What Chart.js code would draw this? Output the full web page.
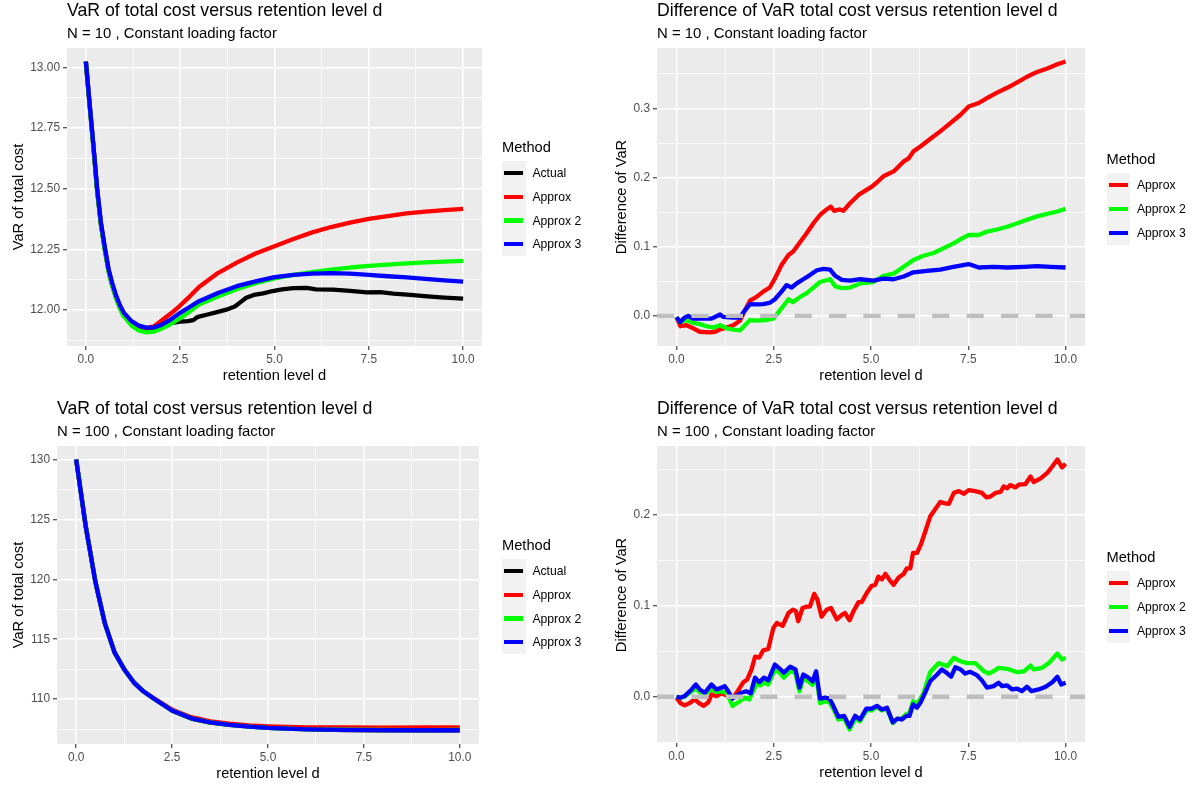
<!DOCTYPE html>
<html>
<head>
<meta charset="utf-8">
<script src="https://cdn.jsdelivr.net/npm/chart.js@4/dist/chart.umd.min.js"></script>
<style>
  html, body { margin: 0; padding: 0; background: #ffffff; }
  body { position: relative; width: 1198px; height: 788px; overflow: hidden;
         font-family: "Liberation Sans", Arial, Helvetica, sans-serif; color: #000; }
  canvas { position: absolute; }
  .txt { position: absolute; white-space: nowrap; line-height: 1; transform: translateY(-50%); }
  .title { font-size: 17.7px; }
  .sub { font-size: 14.9px; }
  .axt { font-size: 14.67px; transform: translate(-50%, -50%); }
  .axt.rot { transform: translate(-50%, -50%) rotate(-90deg); }
  .lgTitle { font-size: 14.67px; }
  .lgKey { position: absolute; background: #F2F2F2; }
  .lgLine { position: absolute; }
  .lgLabel { font-size: 12.2px; }
</style>
</head>
<body>
<canvas id="cTL" style="left:0px;top:0px"></canvas>
<canvas id="cTR" style="left:600px;top:0px"></canvas>
<canvas id="cBL" style="left:0px;top:394px"></canvas>
<canvas id="cBR" style="left:600px;top:394px"></canvas>
<script>
// ---------- labels ----------
const methodNames  = ['Actual', 'Approx', 'Approx 2', 'Approx 3'];
const methodColors = ['#000000', '#FF0000', '#00FF00', '#0000FF'];
const titleLevel = 'VaR of total cost versus retention level d';
const titleDiff  = 'Difference of VaR total cost versus retention level d';
const subtitle10  = 'N = 10 , Constant loading factor';
const subtitle100 = 'N = 100 , Constant loading factor';
const xTitle = 'retention level d';
const yTitleLevel = 'VaR of total cost';
const yTitleDiff  = 'Difference of VaR';

// ---------- tick breaks ----------
const xBreaks   = [0, 2.5, 5, 7.5, 10];
const yBreaksTL = [12, 12.25, 12.5, 12.75, 13];
const yBreaksTR = [0, 0.1, 0.2, 0.3];
const yBreaksBL = [110, 115, 120, 125, 130];
const yBreaksBR = [0, 0.1, 0.2];

// ---------- N = 10 : VaR of total cost ----------
const tlD = [0,0.1,0.2,0.3,0.4,0.5,0.6,0.7,0.8,0.9,1.0,1.2,1.4,1.6,1.8,2.0,2.25,2.5,2.75,3.0,3.5,4.0,4.5,5.0,5.5,6.0,6.5,7.0,7.5,8.0,8.5,9.0,9.5,10.0];
const tlApprox  = [13.025,12.848,12.676,12.495,12.355,12.255,12.166,12.105,12.055,12.015,11.985,11.952,11.932,11.925,11.932,11.955,11.985,12.018,12.055,12.095,12.152,12.195,12.233,12.263,12.293,12.32,12.342,12.36,12.376,12.387,12.398,12.406,12.412,12.417];
const tlApprox2 = [13.025,12.845,12.672,12.49,12.35,12.25,12.16,12.098,12.048,12.006,11.975,11.937,11.915,11.907,11.91,11.922,11.942,11.966,11.993,12.022,12.055,12.085,12.11,12.13,12.145,12.156,12.166,12.175,12.182,12.187,12.192,12.196,12.199,12.202];
const tlApprox3 = [13.025,12.85,12.68,12.50,12.36,12.26,12.17,12.11,12.06,12.02,11.99,11.955,11.935,11.927,11.928,11.938,11.96,11.988,12.012,12.036,12.07,12.098,12.118,12.135,12.145,12.15,12.152,12.15,12.145,12.139,12.134,12.128,12.122,12.117];
const tlActualD = [0,0.1,0.2,0.3,0.4,0.5,0.6,0.7,0.8,0.9,1.0,1.2,1.4,1.6,1.8,2.0,2.25,2.5,2.7,2.85,2.95,3.2,3.45,3.7,3.95,4.1,4.25,4.45,4.7,4.95,5.2,5.5,5.85,6.1,6.55,7.0,7.45,7.8,8.15,8.6,9.05,9.5,10.0];
const tlActual  = [13.025,12.846,12.674,12.492,12.352,12.252,12.162,12.1,12.05,12.01,11.978,11.94,11.92,11.912,11.918,11.93,11.945,11.952,11.954,11.958,11.97,11.98,11.99,12.0,12.014,12.032,12.05,12.062,12.068,12.078,12.085,12.09,12.091,12.085,12.084,12.079,12.072,12.073,12.067,12.062,12.056,12.051,12.047];

// ---------- N = 10 : difference of VaR ----------
const trApproxD  = [0,0.1,0.26,0.43,0.6,0.86,0.99,1.1,1.29,1.46,1.63,1.76,1.89,2.06,2.23,2.4,2.53,2.7,2.88,3.0,3.18,3.35,3.52,3.69,3.86,3.97,4.05,4.2,4.29,4.46,4.68,5.02,5.15,5.32,5.58,5.71,5.84,5.97,6.09,6.27,6.52,6.78,7.04,7.3,7.51,7.77,7.98,8.24,8.5,8.76,9.01,9.27,9.53,9.79,10.0];
const trApprox   = [-0.002,-0.015,-0.0135,-0.018,-0.023,-0.024,-0.023,-0.02,-0.017,-0.0135,-0.007,0.008,0.022,0.0275,0.035,0.041,0.054,0.0735,0.088,0.093,0.107,0.12,0.134,0.146,0.154,0.158,0.152,0.154,0.152,0.163,0.175,0.187,0.193,0.202,0.209,0.216,0.2235,0.228,0.238,0.245,0.256,0.267,0.279,0.291,0.303,0.308,0.315,0.323,0.33,0.338,0.346,0.353,0.358,0.364,0.368];
const trApprox2D = [0,0.09,0.26,0.43,0.6,0.77,0.94,1.12,1.29,1.46,1.63,1.76,1.89,2.06,2.32,2.49,2.66,2.88,3.0,3.18,3.35,3.52,3.69,3.95,4.08,4.25,4.46,4.72,5.06,5.32,5.58,5.84,6.09,6.35,6.61,6.87,7.12,7.34,7.51,7.77,7.98,8.24,8.5,8.76,9.01,9.27,9.53,9.79,10.0];
const trApprox2  = [-0.002,-0.009,-0.006,-0.010,-0.012,-0.015,-0.017,-0.0135,-0.018,-0.02,-0.021,-0.0135,-0.006,-0.007,-0.006,-0.004,0.008,0.024,0.02,0.0275,0.033,0.041,0.049,0.053,0.043,0.04,0.041,0.047,0.049,0.058,0.061,0.071,0.081,0.087,0.091,0.098,0.105,0.112,0.117,0.117,0.122,0.125,0.129,0.134,0.139,0.144,0.1475,0.151,0.155];
const trApprox3D = [0,0.1,0.21,0.3,0.43,0.69,0.9,1.03,1.12,1.2,1.46,1.63,1.76,1.89,2.06,2.23,2.4,2.53,2.7,2.83,2.96,3.09,3.26,3.43,3.61,3.78,3.95,4.08,4.25,4.46,4.72,5.06,5.32,5.58,5.84,6.09,6.44,6.78,7.12,7.51,7.77,8.15,8.5,8.93,9.27,9.61,10.0];
const trApprox3  = [-0.002,-0.009,-0.0025,0,-0.004,-0.004,-0.004,-0.0005,0.002,-0.0015,-0.0025,-0.0025,0.008,0.017,0.0165,0.017,0.019,0.024,0.035,0.0445,0.041,0.047,0.053,0.059,0.066,0.068,0.067,0.058,0.052,0.051,0.053,0.051,0.054,0.053,0.057,0.063,0.065,0.067,0.071,0.075,0.070,0.071,0.070,0.071,0.072,0.071,0.070];

// ---------- N = 100 : VaR of total cost ----------
const blD = [0,0.25,0.5,0.75,1.0,1.25,1.5,1.75,2.0,2.5,3.0,3.5,4.0,4.5,5.0,6.0,7.0,8.0,9.0,10.0];
const blActual  = [130.0,124.4,119.8,116.3,113.9,112.5,111.4,110.65,110.1,109.03,108.38,108.03,107.86,107.72,107.61,107.49,107.41,107.40,107.39,107.385];
const blApprox  = [130.0,124.4,119.8,116.3,113.9,112.5,111.4,110.66,110.14,109.12,108.49,108.14,107.95,107.81,107.73,107.64,107.63,107.62,107.63,107.64];
const blApprox2 = [130.0,124.4,119.8,116.3,113.9,112.5,111.4,110.65,110.1,109.05,108.4,108.05,107.85,107.7,107.6,107.48,107.45,107.43,107.42,107.43];
const blApprox3 = [130.0,124.4,119.8,116.3,113.9,112.5,111.4,110.65,110.1,109.05,108.4,108.05,107.85,107.7,107.6,107.48,107.43,107.41,107.40,107.40];

// ---------- N = 100 : difference of VaR ----------
const brApproxD  = [0,0.1,0.21,0.34,0.47,0.58,0.7,0.82,0.9,1.03,1.16,1.29,1.46,1.59,1.72,1.82,1.93,2.02,2.13,2.23,2.36,2.49,2.58,2.73,2.88,2.99,3.07,3.13,3.24,3.35,3.43,3.54,3.62,3.73,3.86,3.97,4.12,4.25,4.33,4.45,4.55,4.68,4.76,4.89,5.02,5.11,5.19,5.28,5.37,5.5,5.58,5.71,5.84,5.92,6.01,6.08,6.18,6.28,6.39,6.52,6.65,6.78,6.91,7.0,7.13,7.26,7.39,7.51,7.68,7.85,7.97,8.07,8.2,8.33,8.41,8.5,8.58,8.71,8.8,8.97,9.1,9.18,9.36,9.53,9.66,9.79,9.91,10.0];
const brApprox   = [-0.001,-0.007,-0.0095,-0.007,-0.003,-0.007,-0.010,-0.006,0.0025,0.0007,0.0036,0.0015,-0.001,0.0073,0.016,0.019,0.03,0.044,0.043,0.051,0.0525,0.0755,0.081,0.078,0.092,0.0957,0.094,0.083,0.0975,0.099,0.099,0.113,0.107,0.088,0.0957,0.0975,0.085,0.09,0.092,0.084,0.094,0.104,0.104,0.114,0.122,0.123,0.132,0.129,0.135,0.127,0.123,0.131,0.135,0.141,0.141,0.158,0.158,0.167,0.181,0.198,0.206,0.214,0.2125,0.212,0.224,0.226,0.223,0.227,0.226,0.224,0.219,0.22,0.224,0.225,0.231,0.229,0.2326,0.23,0.233,0.2337,0.242,0.236,0.24,0.246,0.253,0.2607,0.252,0.256];
const brApprox2D = [0,0.1,0.21,0.39,0.5,0.6,0.73,0.9,1.03,1.16,1.29,1.37,1.44,1.59,1.76,1.87,1.97,2.06,2.15,2.25,2.36,2.53,2.66,2.76,2.92,3.06,3.16,3.26,3.39,3.5,3.59,3.69,3.82,3.93,4.03,4.16,4.31,4.45,4.59,4.72,4.88,5.02,5.15,5.28,5.41,5.56,5.68,5.79,5.91,5.99,6.08,6.18,6.27,6.35,6.52,6.74,6.96,7.13,7.3,7.47,7.68,7.9,8.03,8.15,8.28,8.5,8.76,8.93,9.1,9.18,9.4,9.57,9.79,9.91,10.0];
const brApprox2  = [0,-0.001,0.0,0.006,0.009,0.005,0.002,0.009,0.005,0.006,0.004,-0.003,-0.0102,-0.006,-0.001,-0.003,0.006,0.0146,0.0124,0.0153,0.0135,0.03,0.026,0.021,0.028,0.026,0.006,0.02,0.017,0.013,0.024,-0.007,-0.005,-0.006,-0.013,-0.025,-0.024,-0.036,-0.024,-0.027,-0.015,-0.015,-0.011,-0.015,-0.013,-0.029,-0.024,-0.024,-0.019,-0.018,-0.005,-0.008,-0.002,0.004,0.027,0.037,0.0336,0.0427,0.039,0.037,0.037,0.028,0.0255,0.028,0.0318,0.0307,0.027,0.028,0.0343,0.03,0.0318,0.037,0.0475,0.041,0.0427];
const brApprox3D = [0,0.1,0.21,0.39,0.5,0.6,0.73,0.9,1.03,1.16,1.24,1.33,1.44,1.56,1.67,1.79,1.91,2.02,2.13,2.25,2.36,2.53,2.66,2.76,2.92,3.06,3.16,3.26,3.39,3.5,3.59,3.69,3.82,3.93,4.03,4.16,4.31,4.45,4.59,4.72,4.88,5.02,5.15,5.28,5.41,5.56,5.68,5.79,5.91,5.99,6.08,6.18,6.27,6.39,6.52,6.7,6.82,6.95,7.06,7.17,7.3,7.42,7.55,7.73,7.85,7.98,8.15,8.28,8.37,8.5,8.63,8.76,8.88,9.01,9.12,9.31,9.49,9.66,9.79,9.89,10.0];
const brApprox3  = [0,-0.001,0.0007,0.008,0.0135,0.008,0.0044,0.0135,0.008,0.01,0.0117,0.006,-0.002,0.0015,0.0044,0.006,0.0037,0.021,0.016,0.021,0.018,0.0354,0.0307,0.0263,0.033,0.03,0.01,0.0245,0.021,0.017,0.028,-0.002,-0.001,-0.002,-0.010,-0.022,-0.021,-0.033,-0.021,-0.025,-0.013,-0.013,-0.010,-0.014,-0.012,-0.028,-0.024,-0.025,-0.021,-0.021,-0.0084,-0.012,-0.0066,0.0044,0.017,0.0245,0.03,0.026,0.022,0.0325,0.03,0.0255,0.0274,0.0234,0.018,0.01,0.0117,0.0153,0.0117,0.0124,0.008,0.0088,0.0062,0.011,0.0062,0.008,0.011,0.016,0.022,0.0135,0.0153];

// ---------- helpers ----------
const FONT = '"Liberation Sans", Arial, Helvetica, sans-serif';

function paddedRange(arrays, extra) {
  let lo = Infinity, hi = -Infinity;
  arrays.concat([extra || []]).forEach(a => a.forEach(v => { lo = Math.min(lo, v); hi = Math.max(hi, v); }));
  const pad = (hi - lo) * 0.05;
  return [lo - pad, hi + pad];
}

function isBreak(v, breaks) { return breaks.some(b => Math.abs(b - v) < 1e-9); }

// major breaks plus the minor ones half way between them, kept inside the panel
function gridValues(breaks, lo, hi) {
  const half = (breaks[1] - breaks[0]) / 2;
  const out = [];
  for (let k = -4; k <= (breaks.length - 1) * 2 + 4; k++) {
    const v = +(breaks[0] + k * half).toFixed(6);
    if (v > lo && v < hi) out.push(v);
  }
  return out;
}

function axisConfig(breaks, range, fmt, fixSize) {
  const values = gridValues(breaks, range[0], range[1]);
  return {
    type: 'linear',
    min: range[0],
    max: range[1],
    afterBuildTicks: s => { s.ticks = values.map(v => ({ value: v })); },
    afterFit: fixSize,
    border: { display: false },
    grid: {
      color: '#FFFFFF',
      lineWidth: c => (c.tick && isBreak(c.tick.value, breaks)) ? 1.5 : 0.75,
      drawTicks: true,
      tickLength: 4,
      tickWidth: 1.1,
      tickColor: c => (c.tick && isBreak(c.tick.value, breaks)) ? '#333333' : 'rgba(0,0,0,0)'
    },
    ticks: {
      autoSkip: false,
      maxRotation: 0,
      minRotation: 0,
      padding: 3,
      color: '#4D4D4D',
      font: { family: FONT, size: 11.9 },
      callback: v => isBreak(v, breaks) ? fmt(v) : ''
    }
  };
}

const panelBackground = {
  id: 'panelBackground',
  beforeDraw(chart) {
    const a = chart.chartArea, ctx = chart.ctx;
    ctx.save();
    ctx.fillStyle = '#EBEBEB';
    ctx.fillRect(a.left, a.top, a.right - a.left, a.bottom - a.top);
    ctx.restore();
  }
};

// dashed horizontal reference at zero, drawn over the series
const zeroReference = {
  id: 'zeroReference',
  afterDatasetsDraw(chart, args, opts) {
    if (!opts || !opts.show) return;
    const a = chart.chartArea, ctx = chart.ctx;
    const y = chart.scales.y.getPixelForValue(0);
    ctx.save();
    ctx.beginPath();
    ctx.rect(a.left, a.top, a.right - a.left, a.bottom - a.top);
    ctx.clip();
    ctx.strokeStyle = '#BEBEBE';
    ctx.lineWidth = 4.3;
    ctx.setLineDash([17.2, 17.2]);
    ctx.lineDashOffset = 0;
    ctx.beginPath();
    ctx.moveTo(a.left, y);
    ctx.lineTo(a.right, y);
    ctx.stroke();
    ctx.restore();
  }
};

function buildPanel(spec) {
  const canvas = document.getElementById(spec.id);
  canvas.width = spec.w; canvas.height = spec.h;
  canvas.style.width = spec.w + 'px'; canvas.style.height = spec.h + 'px';

  const datasets = spec.series.map(s => ({
    label: s.name,
    data: s.d.map((d, i) => ({ x: d, y: s.v[i] })),
    showLine: true,
    borderColor: s.color,
    backgroundColor: s.color,
    borderWidth: 4.3,
    borderJoinStyle: 'round',
    borderCapStyle: 'butt',
    pointRadius: 0,
    pointHoverRadius: 0,
    tension: 0,
    fill: false,
    order: s.order
  }));

  const xRange = paddedRange(spec.series.map(s => s.d));
  const yRange = paddedRange(spec.series.map(s => s.v), spec.zero ? [0] : []);
  const a = spec.area;

  new Chart(canvas, {
    type: 'scatter',
    data: { datasets },
    options: {
      responsive: false,
      animation: false,
      devicePixelRatio: 1,
      events: [],
      layout: { padding: { left: 0, top: a.top, right: spec.w - a.right, bottom: 0 } },
      plugins: {
        legend: { display: false },
        tooltip: { enabled: false },
        title: { display: false },
        zeroReference: { show: !!spec.zero }
      },
      scales: {
        x: axisConfig(xBreaks, xRange, v => v.toFixed(1), s => { s.height = spec.h - a.bottom; }),
        y: axisConfig(spec.yBreaks, yRange, spec.yFmt, s => { s.width = a.left; })
      }
    },
    plugins: [panelBackground, zeroReference]
  });

  // texts around the panel
  addText('txt title', spec.title, spec.ox + a.left, spec.oy + a.top - 37.5);
  addText('txt sub', spec.subtitle, spec.ox + a.left, spec.oy + a.top - 15);
  addText('txt axt', xTitle, spec.ox + (a.left + a.right) / 2, spec.oy + a.bottom + 29);
  addText('txt axt rot', spec.yTitle, spec.ox + spec.yTitleX, spec.oy + (a.top + a.bottom) / 2);
  addLegend(spec.ox + spec.legend.left, spec.oy + spec.legend.titleY, spec.oy + spec.legend.keyTop, spec.series.slice().sort((p, q) => q.order - p.order));
}

function addText(cls, text, x, y) {
  const el = document.createElement('div');
  el.className = cls;
  el.textContent = text;
  el.style.left = x + 'px';
  el.style.top = y + 'px';
  document.body.appendChild(el);
  return el;
}

function addLegend(left, titleY, keyTop, series) {
  const keyH = 23.8, keyW = 23.5;
  addText('txt lgTitle', 'Method', left, titleY);
  series.forEach((s, i) => {
    const top = keyTop + i * keyH;
    const key = document.createElement('div');
    key.className = 'lgKey';
    key.style.left = left + 'px'; key.style.top = top + 'px';
    key.style.width = keyW + 'px'; key.style.height = keyH + 'px';
    document.body.appendChild(key);
    const line = document.createElement('div');
    line.className = 'lgLine';
    line.style.left = (left + 2.4) + 'px';
    line.style.top = (top + keyH / 2 - 2.15) + 'px';
    line.style.width = '18.8px'; line.style.height = '4.3px';
    line.style.background = s.color;
    document.body.appendChild(line);
    addText('txt lgLabel', s.name, left + 30.4, top + keyH / 2);
  });
}

function seriesSet(list) {
  // list entries: [methodIndex, xValues, yValues]
  return list.map(([m, d, v]) => ({ name: methodNames[m], color: methodColors[m], order: 4 - m, d, v }));
}

// ---------- the four panels ----------
buildPanel({
  id: 'cTL', ox: 0, oy: 0, w: 600, h: 394,
  area: { left: 67, top: 48, right: 482, bottom: 346 },
  yBreaks: yBreaksTL, yFmt: v => v.toFixed(2),
  title: titleLevel, subtitle: subtitle10, yTitle: yTitleLevel, yTitleX: 18,
  legend: { left: 502, titleY: 146.7, keyTop: 161 },
  series: seriesSet([[0, tlActualD, tlActual], [1, tlD, tlApprox], [2, tlD, tlApprox2], [3, tlD, tlApprox3]])
});

buildPanel({
  id: 'cTR', ox: 600, oy: 0, w: 598, h: 394,
  area: { left: 57, top: 48, right: 485, bottom: 346 },
  yBreaks: yBreaksTR, yFmt: v => v.toFixed(1), zero: true,
  title: titleDiff, subtitle: subtitle10, yTitle: yTitleDiff, yTitleX: 21,
  legend: { left: 506.5, titleY: 159.3, keyTop: 173.3 },
  series: seriesSet([[1, trApproxD, trApprox], [2, trApprox2D, trApprox2], [3, trApprox3D, trApprox3]])
});

buildPanel({
  id: 'cBL', ox: 0, oy: 394, w: 600, h: 394,
  area: { left: 57, top: 52, right: 479, bottom: 350 },
  yBreaks: yBreaksBL, yFmt: v => v.toFixed(0),
  title: titleLevel, subtitle: subtitle100, yTitle: yTitleLevel, yTitleX: 18,
  legend: { left: 502, titleY: 151, keyTop: 165 },
  series: seriesSet([[0, blD, blActual], [1, blD, blApprox], [2, blD, blApprox2], [3, blD, blApprox3]])
});

buildPanel({
  id: 'cBR', ox: 600, oy: 394, w: 598, h: 394,
  area: { left: 57, top: 52, right: 485, bottom: 349 },
  yBreaks: yBreaksBR, yFmt: v => v.toFixed(1), zero: true,
  title: titleDiff, subtitle: subtitle100, yTitle: yTitleDiff, yTitleX: 21,
  legend: { left: 506.5, titleY: 163.3, keyTop: 177.3 },
  series: seriesSet([[1, brApproxD, brApprox], [2, brApprox2D, brApprox2], [3, brApprox3D, brApprox3]])
});
</script>
</body>
</html>
